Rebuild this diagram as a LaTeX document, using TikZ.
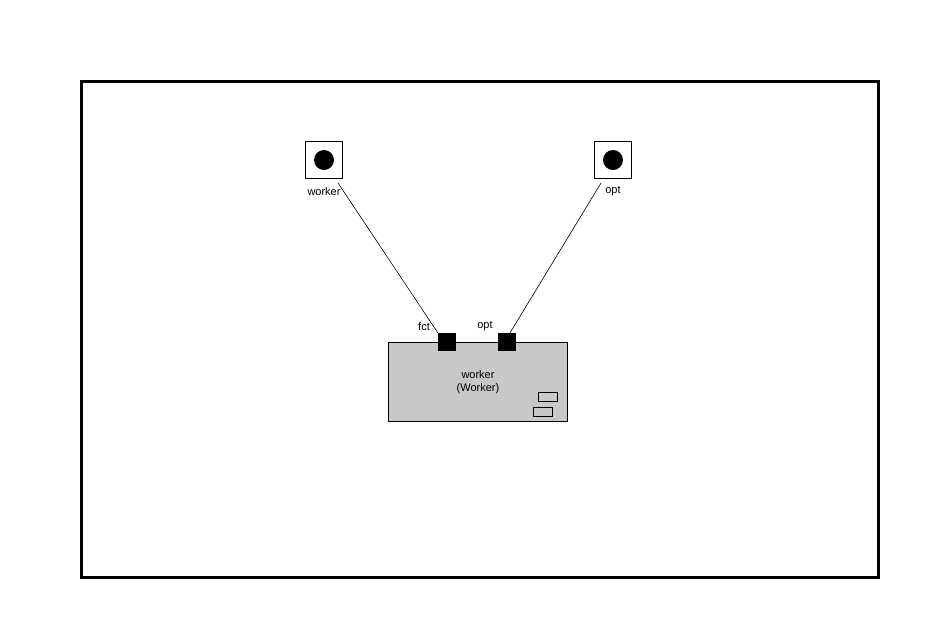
\documentclass[tikz,border=0pt]{standalone}
\usepackage{fontspec}
\setmainfont{Liberation Sans}
\begin{document}
\begin{tikzpicture}[x=1pt,y=-1pt,
  lbl/.style={font=\fontsize{11}{13}\selectfont, inner sep=0pt},
  extport/.style={draw, line width=1.8pt, minimum size=37pt, inner sep=0pt},
  blk/.style={draw, fill={rgb,255:red,200;green,200;blue,200}, line width=0.6pt, minimum width=179pt, minimum height=79pt, inner sep=0pt},
  intport/.style={fill=black, minimum size=18pt, inner sep=0pt},
  minirect/.style={draw, line width=0.6pt, minimum width=19pt, minimum height=9pt, inner sep=0pt}]
\useasboundingbox (0,0) rectangle (925,625);
\node[draw, line width=2.8pt, minimum width=797pt, minimum height=496pt, inner sep=0pt] (frame) at (480,329.5) {};
% external ports
\node[extport] (pw) at (324,160) {};
\fill (pw.center) circle (10pt);
\node[lbl] (pwl) at (324,191.5) {worker};
\node[extport] (po) at (613,160) {};
\fill (po.center) circle (10pt);
\node[lbl] (pol) at (613,191.5) {opt};
% block
\node[blk] (b) at (477.5,381.5) {};
\node[lbl, align=center, font=\fontsize{11}{13}\selectfont] (bt) at (478,382.5) {worker\\(Worker)};
\node[minirect] (r1) at (547.5,396.5) {};
\node[minirect] (r2) at (542.5,411.5) {};
\node[intport] (fct) at (447,342) {};
\node[intport] (opt) at (507,342) {};
\node[lbl] (fctl) at (424,326.5) {fct};
\node[lbl] (optl) at (485,326.5) {opt};
% connectors
\coordinate (ws) at (338,183);
\coordinate (os) at (601,183);
\draw[line width=0.6pt] (ws) -- (fct.north west);
\draw[line width=0.6pt] (os) -- ([xshift=3pt]opt.north);
\end{tikzpicture}
\end{document}
